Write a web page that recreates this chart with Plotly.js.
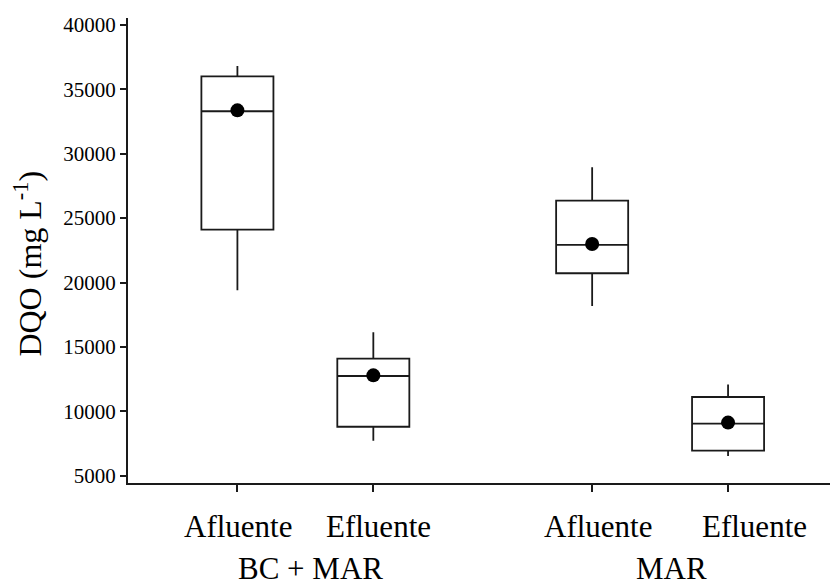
<!DOCTYPE html>
<html>
<head>
<meta charset="utf-8">
<script src="https://cdn.plot.ly/plotly-3.0.1.min.js"></script>
<style>html,body{margin:0;padding:0;background:#fff;}#chart{width:831px;height:586px;}</style>
</head>
<body>
<div id="chart"></div>
<script>
// Data
const groups = ['BC + MAR', 'MAR'];
const categories = ['Afluente', 'Efluente', 'Afluente', 'Efluente'];
const positions = [1, 2, 3.61, 4.61];
const lowerWhisker = [19400, 7720, 18180, 6530];
const q1 = [24100, 8800, 20720, 6940];
const median = [33300, 12740, 22920, 9040];
const q3 = [36000, 14090, 26360, 11110];
const upperWhisker = [36820, 16140, 28950, 12070];
const mean = [33370, 12790, 22990, 9120];
const yTicks = [5000, 10000, 15000, 20000, 25000, 30000, 35000, 40000];

const FONT = '"Liberation Serif", "Times New Roman", serif';
const INK = '#1a1a1a';

const traces = [
  {
    type: 'box',
    x: positions,
    q1: q1,
    median: median,
    q3: q3,
    lowerfence: lowerWhisker,
    upperfence: upperWhisker,
    width: 0.53,
    whiskerwidth: 0,
    fillcolor: 'rgba(255,255,255,0)',
    line: {color: INK, width: 1.8},
    boxpoints: false,
    hoverinfo: 'skip',
    showlegend: false
  },
  {
    type: 'scatter',
    mode: 'markers',
    x: positions,
    y: mean,
    marker: {color: '#000', size: 14},
    showlegend: false,
    hoverinfo: 'skip'
  }
];

const labelShift = [0.5, 5.5, 6, 26];
const groupCenters = [(positions[0] + positions[1]) / 2, (positions[2] + positions[3]) / 2];
const groupShift = [5, 11.5];

const annotations = [];
categories.forEach((c, i) => {
  annotations.push({
    text: c, x: positions[i], xref: 'x', xshift: labelShift[i],
    y: -0.094, yref: 'paper', yanchor: 'middle', xanchor: 'center',
    showarrow: false, font: {family: FONT, size: 31, color: '#000'}
  });
});
groups.forEach((g, i) => {
  annotations.push({
    text: g, x: groupCenters[i], xref: 'x', xshift: groupShift[i],
    y: -0.184, yref: 'paper', yanchor: 'middle', xanchor: 'center',
    showarrow: false, font: {family: FONT, size: 31, color: '#000'}
  });
});
annotations.push({
  text: 'DQO (mg L<sup>-1</sup>)', textangle: -90,
  x: -0.143, xref: 'paper', y: 0.471, yref: 'paper',
  xanchor: 'center', yanchor: 'middle', showarrow: false,
  font: {family: FONT, size: 32, color: '#000'}
});

const layout = {
  width: 831, height: 586,
  margin: {l: 128, r: 1, t: 18, b: 103},
  paper_bgcolor: '#fff', plot_bgcolor: '#fff',
  font: {family: FONT, color: '#000'},
  xaxis: {
    range: [0.195, 5.36], showgrid: false, zeroline: false,
    showline: true, linecolor: INK, linewidth: 2,
    ticks: 'outside', ticklen: 7, tickwidth: 2, tickcolor: INK,
    tickvals: positions, showticklabels: false
  },
  yaxis: {
    range: [4430, 40540], showgrid: false, zeroline: false,
    showline: true, linecolor: INK, linewidth: 2,
    ticks: 'outside', ticklen: 6, tickwidth: 2, tickcolor: INK,
    tickvals: yTicks, tickformat: 'd',
    tickfont: {family: FONT, size: 21, color: '#000'}
  },
  annotations: annotations,
  showlegend: false
};

Plotly.newPlot('chart', traces, layout, {staticPlot: true, displayModeBar: false});
</script>
</body>
</html>
